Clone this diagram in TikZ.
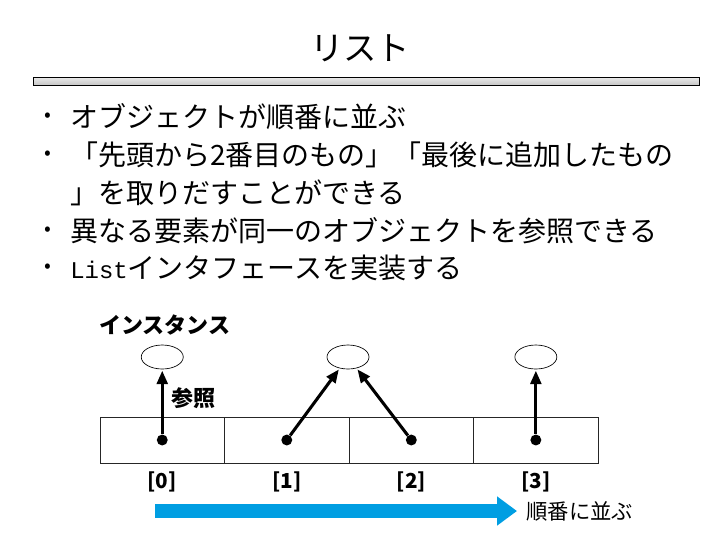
\documentclass[tikz,border=0pt]{standalone}
\usepackage{fontspec}
\setmainfont{Noto Sans CJK JP}
\newfontfamily\listmono{Liberation Mono}
\usetikzlibrary{arrows.meta,positioning,shapes.geometric}
\definecolor{listblue}{RGB}{0,158,226}
\definecolor{barlight}{RGB}{232,232,232}
\definecolor{bardark}{RGB}{196,196,196}

\begin{document}
\begin{tikzpicture}[x=0.75pt, y=-0.75pt,
    bulletmark/.style={font=\fontsize{15}{15}\selectfont, inner sep=0pt},
    item/.style={anchor=west, inner sep=0pt, font=\fontsize{21}{21}\selectfont},
    cell/.style={rectangle, draw=black!85, line width=0.6pt, minimum width=93.4pt,
                 minimum height=34.5pt, inner sep=0pt, outer sep=0pt},
    inst/.style={ellipse, draw, line width=0.5pt, minimum width=31.5pt,
                 minimum height=18pt, inner sep=0pt},
    refdot/.style={circle, fill=black, inner sep=0pt, minimum size=8.2pt},
    ref/.style={-{Triangle[length=10pt, width=8pt]}, line width=2.3pt, shorten >=1pt},
    idx/.style={font=\bfseries\fontsize{15.5}{15.5}\selectfont, inner sep=0pt},
    lbl/.style={font=\bfseries\fontsize{16.5}{16.5}\selectfont, inner sep=0pt},
]
    \useasboundingbox (0,0) rectangle (720,540);

    % Title and bar
    \node[font=\fontsize{25}{25}\selectfont] (title) at (360,48) {リスト};
    \node[rectangle, draw=black, line width=0.8pt, top color=barlight, bottom color=bardark,
          minimum width=500pt, minimum height=6pt, inner sep=0pt] (bar) at (366.5,81.5) {};

    % Bullet items
    \node[bulletmark] (b1) at (48,117) {•};
    \node[item] (t1) at (70,117) {オブジェクトが順番に並ぶ};
    \node[bulletmark] (b2) at (48,155) {•};
    \node[item] (t2) at (70,155) {「先頭から2番目のもの」「最後に追加したもの};
    \node[item] (t2b) at (70,193) {」を取りだすことができる};
    \node[bulletmark] (b3) at (48,231) {•};
    \node[item] (t3) at (70,231) {異なる要素が同一のオブジェクトを参照できる};
    \node[bulletmark] (b4) at (48,268) {•};
    \node[item] (t4) at (70,268) {{\listmono\fontsize{18}{18}\selectfont List}インタフェースを実装する};

    % The list cells
    \node[cell] (c0) at (162.25,440) {};
    \node[cell, right=0pt of c0] (c1) {};
    \node[cell, right=0pt of c1] (c2) {};
    \node[cell, right=0pt of c2] (c3) {};

    \node[refdot] (p0) at (c0) {};
    \node[refdot] (p1) at (c1) {};
    \node[refdot] (p2) at (c2) {};
    \node[refdot] (p3) at (c3) {};

    % Instances
    \node[lbl, anchor=west] (instlbl) at (99,325) {インスタンス};
    \node[inst] (obj0) at (p0 |- 0,357) {};
    \node[inst] (obj1) at (348,357) {};
    \node[inst] (obj2) at (p3 |- 0,357) {};

    % References
    \draw[ref] (p0) -- (obj0);
    \draw[ref] (p1) -- (obj1);
    \draw[ref] (p2) -- (obj1);
    \draw[ref] (p3) -- (obj2);
    \node[lbl, anchor=west] (reflbl) at (171,398) {参照};

    % Indices
    \node[idx] (i0) at (c0 |- 0,482) {[0]};
    \node[idx] (i1) at (c1 |- 0,482) {[1]};
    \node[idx] (i2) at (c2 |- 0,482) {[2]};
    \node[idx] (i3) at (c3 |- 0,482) {[3]};

    % Order arrow
    \coordinate (flowstart) at (155,511);
    \coordinate (flowend) at (517,511);
    \draw[listblue, line width=11pt, -{Triangle[length=15pt, width=21pt]}] (flowstart) -- (flowend);
    \node[font=\fontsize{16}{16}\selectfont, inner sep=0pt, anchor=west, right=7pt of flowend] (flowlbl) {順番に並ぶ};
\end{tikzpicture}
\end{document}
